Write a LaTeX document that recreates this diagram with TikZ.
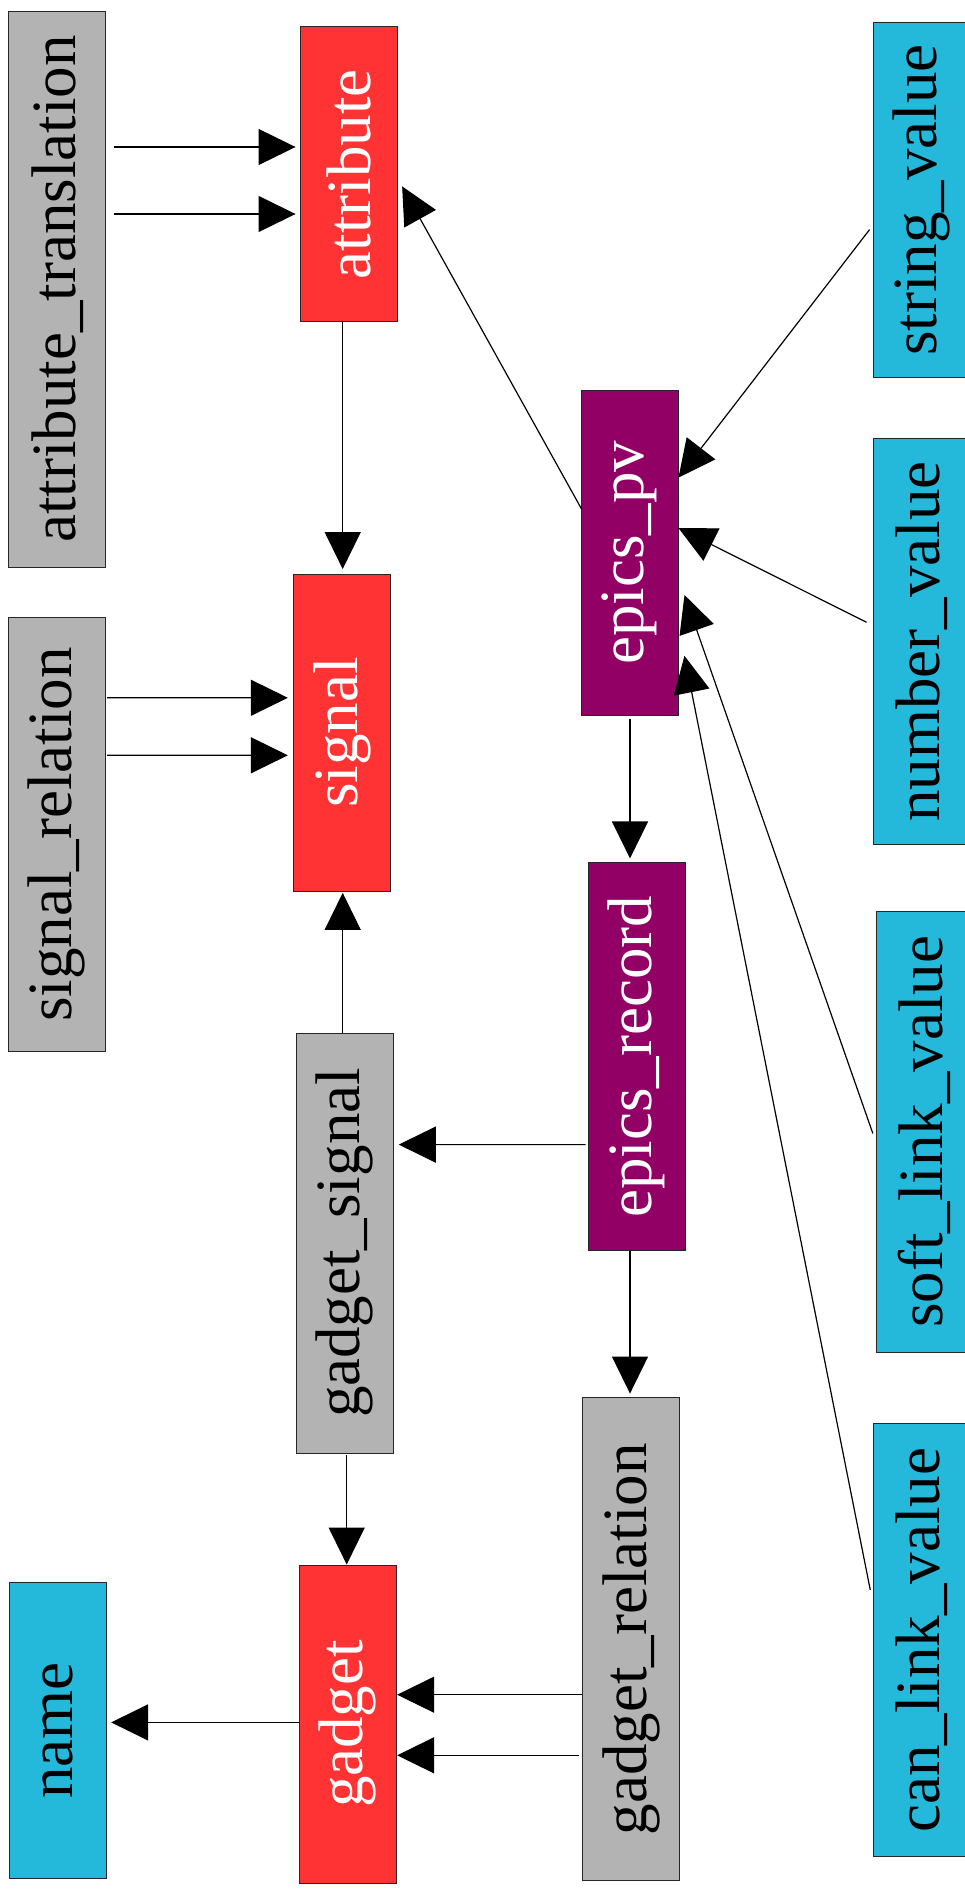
\documentclass[tikz,border=0pt]{standalone}
\usepackage{fontspec}
\setmainfont{Liberation Serif}
\usepackage{graphicx}
\usetikzlibrary{arrows.meta}
\definecolor{nred}{HTML}{FF3333}
\definecolor{ngray}{HTML}{B3B3B3}
\definecolor{npurple}{HTML}{920066}
\definecolor{ncyan}{HTML}{24B8DA}
\tikzset{
  box/.style={draw=black!85, line width=0.9pt, inner sep=0pt, minimum width=97pt,
    font=\fontsize{63}{70}\selectfont},
  redbox/.style={box, fill=nred, text=white},
  graybox/.style={box, fill=ngray, text=black},
  purplebox/.style={box, fill=npurple, text=white},
  cyanbox/.style={box, fill=ncyan, text=black},
  arr/.style={line width=1.2pt, draw=black, -{Triangle[length=37pt,width=36pt]}},
}
\newcommand{\rt}[1]{\rotatebox{90}{#1}}
\begin{document}
\begin{tikzpicture}[x=1pt,y=1pt]
\useasboundingbox[fill=white] (0,0) rectangle (965,-1894);
% nodes
\node[graybox, minimum height=556pt] (attrtrans) at (57.3,-289) {\rt{attribute\_translation}};
\node[redbox, minimum height=295pt] (attribute) at (348.8,-174.4) {\rt{attribute}};
\node[cyanbox, minimum height=354.4pt] (stringv) at (921.8,-199.8) {\rt{string\_value}};
\node[purplebox, minimum height=325pt] (epicspv) at (629.5,-552.6) {\rt{epics\_pv}};
\node[graybox, minimum height=434pt] (sigrel) at (56.8,-834.4) {\rt{signal\_relation}};
\node[redbox, minimum height=317pt] (signal) at (342,-732.5) {\rt{signal}};
\node[cyanbox, minimum height=406.4pt] (numberv) at (921.8,-641.4) {\rt{number\_value}};
\node[purplebox, minimum height=388.4pt] (epicsrec) at (636.5,-1056.7) {\rt{epics\_record}};
\node[graybox, minimum height=420pt] (gadsig) at (344.8,-1243) {\rt{gadget\_signal}};
\node[cyanbox, minimum height=440.4pt] (softv) at (924.5,-1131.8) {\rt{soft\_link\_value}};
\node[graybox, minimum height=483pt] (gadrel) at (631,-1639.2) {\rt{gadget\_relation}};
\node[cyanbox, minimum height=433.3pt] (canv) at (921.8,-1640.2) {\rt{can\_link\_value}};
\node[cyanbox, minimum height=296.8pt] (name) at (58.2,-1730.4) {\rt{name}};
\node[redbox, minimum height=318pt] (gadget) at (347.7,-1724) {\rt{gadget}};
% edges
\draw[arr] ([xshift=8.2pt,yshift=142pt]attrtrans.east) -- ([xshift=-4.3pt,yshift=27.4pt]attribute.west);
\draw[arr] ([xshift=8.2pt,yshift=75pt]attrtrans.east) -- ([xshift=-4.3pt,yshift=-39.6pt]attribute.west);
\draw[arr] ([xshift=-6.1pt]attribute.south) -- ([xshift=0.7pt,yshift=4.5pt]signal.north);
\draw[arr] ([xshift=1pt,yshift=43.6pt]epicspv.west) -- ([xshift=4.4pt,yshift=-12pt]attribute.east);
\draw[arr] ([xshift=-3.3pt,yshift=-29.8pt]stringv.west) -- ([yshift=75pt]epicspv.east);
\draw[arr] ([xshift=-6.3pt,yshift=19.1pt]numberv.west) -- ([yshift=24.6pt]epicspv.east);
\draw[arr] ([xshift=-2.7pt,yshift=-1.7pt]softv.west) -- ([xshift=6pt,yshift=-42.4pt]epicspv.east);
\draw[arr] ([xshift=-2.6pt,yshift=50.4pt]canv.west) -- ([xshift=6pt,yshift=-103.2pt]epicspv.east);
\draw[arr] ([xshift=0.5pt,yshift=-3.7pt]epicspv.south) -- ([xshift=-6.5pt,yshift=3.6pt]epicsrec.north);
\draw[arr] ([xshift=1.4pt,yshift=136.6pt]sigrel.east) -- ([xshift=-5.2pt,yshift=34.7pt]signal.west);
\draw[arr] ([xshift=1.4pt,yshift=79.1pt]sigrel.east) -- ([xshift=-5.2pt,yshift=-22.8pt]signal.west);
\draw[arr] ([xshift=-2.1pt]gadsig.north) -- ([xshift=0.7pt,yshift=-1.4pt]signal.south);
\draw[arr] ([xshift=-2pt,yshift=-87.9pt]epicsrec.west) -- ([xshift=5pt,yshift=98.4pt]gadsig.east);
\draw[arr] ([xshift=-6.5pt]epicsrec.south) -- ([xshift=-1pt,yshift=3.7pt]gadrel.north);
\draw[arr] ([xshift=1.9pt,yshift=-2pt]gadsig.south) -- ([xshift=-1pt]gadget.north);
\draw[arr] ([yshift=1.6pt]gadget.west) -- ([xshift=4pt,yshift=8pt]name.east);
\draw[arr] ([yshift=-55.5pt]gadrel.west) -- ([xshift=0.5pt,yshift=29.3pt]gadget.east);
\draw[arr] ([xshift=-3pt,yshift=-116.1pt]gadrel.west) -- ([xshift=0.5pt,yshift=-31.3pt]gadget.east);
\end{tikzpicture}
\end{document}
